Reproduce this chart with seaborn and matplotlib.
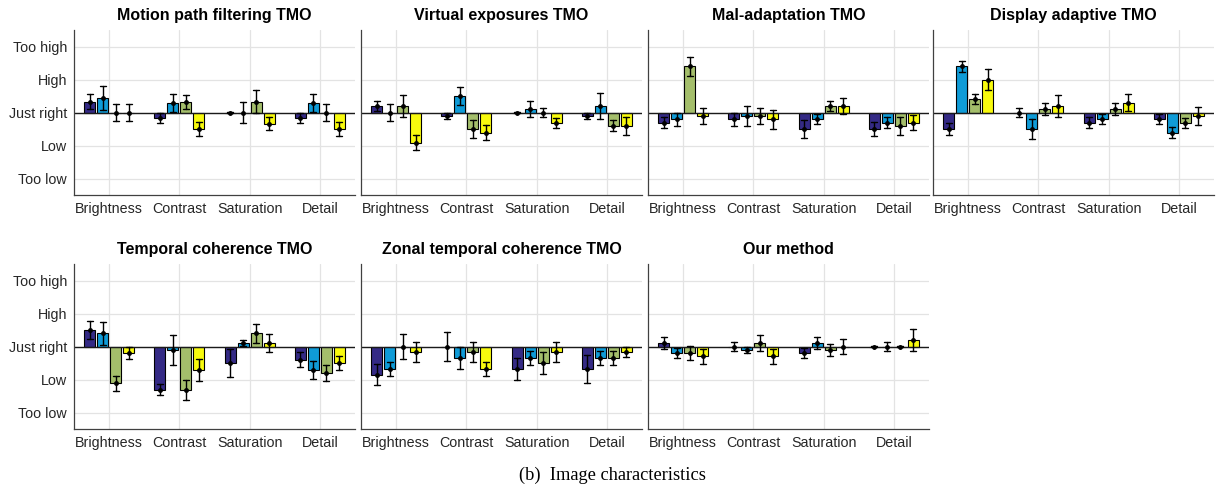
import numpy as np
import pandas as pd
import matplotlib
matplotlib.use("Agg")
import matplotlib.pyplot as plt
import seaborn as sns

# ---- data -------------------------------------------------------------
categories = ["Brightness", "Contrast", "Saturation", "Detail"]
series = ["S1", "S2", "S3", "S4"]
level_labels = ["Too low", "Low", "Just right", "High", "Too high"]
level_values = [-2, -1, 0, 1, 2]
titles = ["Motion path filtering TMO", "Virtual exposures TMO",
          "Mal-adaptation TMO", "Display adaptive TMO",
          "Temporal coherence TMO", "Zonal temporal coherence TMO",
          "Our method"]
colors = ["#342a85", "#0f9bd7", "#a4be6b", "#f8fa0e"]

# means: rows = categories, cols = series
motion_mean = [[0.33, 0.43, 0.0, 0.0], [-0.17, 0.29, 0.33, -0.50],
               [0.0, 0.0, 0.33, -0.34], [-0.17, 0.29, 0.0, -0.50]]
motion_err = [[0.22, 0.36, 0.26, 0.26], [0.16, 0.28, 0.21, 0.22],
              [0.01, 0.31, 0.34, 0.20], [0.16, 0.28, 0.26, 0.22]]
virtual_mean = [[0.20, 0.0, 0.20, -0.91], [-0.11, 0.50, -0.50, -0.61],
                [0.0, 0.10, 0.0, -0.32], [-0.11, 0.20, -0.40, -0.40]]
virtual_err = [[0.14, 0.27, 0.33, 0.23], [0.10, 0.27, 0.27, 0.22],
               [0.01, 0.24, 0.15, 0.16], [0.10, 0.39, 0.16, 0.27]]
maladapt_mean = [[-0.31, -0.20, 1.40, -0.10], [-0.20, -0.10, -0.10, -0.20],
                 [-0.50, -0.20, 0.20, 0.20], [-0.50, -0.31, -0.40, -0.31]]
maladapt_err = [[0.17, 0.20, 0.28, 0.24], [0.20, 0.31, 0.24, 0.29],
                [0.27, 0.14, 0.14, 0.25], [0.22, 0.17, 0.27, 0.22]]
display_mean = [[-0.50, 1.40, 0.40, 1.00], [0.0, -0.50, 0.10, 0.20],
                [-0.31, -0.20, 0.10, 0.30], [-0.20, -0.61, -0.31, -0.10]]
display_err = [[0.17, 0.16, 0.15, 0.33], [0.15, 0.31, 0.18, 0.33],
               [0.17, 0.14, 0.18, 0.26], [0.14, 0.16, 0.15, 0.28]]
temporal_mean = [[0.50, 0.40, -1.11, -0.20], [-1.31, -0.10, -1.31, -0.71],
                 [-0.50, 0.10, 0.40, 0.10], [-0.40, -0.71, -0.81, -0.50]]
temporal_err = [[0.27, 0.35, 0.23, 0.18], [0.16, 0.46, 0.30, 0.34],
                [0.43, 0.09, 0.29, 0.28], [0.22, 0.26, 0.25, 0.22]]
zonal_mean = [[-0.85, -0.68, 0.0, -0.17], [0.0, -0.34, -0.17, -0.68],
              [-0.68, -0.34, -0.50, -0.17], [-0.68, -0.34, -0.34, -0.17]]
zonal_err = [[0.31, 0.21, 0.37, 0.31], [0.45, 0.33, 0.31, 0.21],
             [0.34, 0.21, 0.34, 0.31], [0.42, 0.21, 0.21, 0.16]]
ours_mean = [[0.10, -0.19, -0.19, -0.30], [0.0, -0.10, 0.10, -0.30],
             [-0.19, 0.10, -0.10, 0.0], [0.0, 0.0, 0.0, 0.20]]
ours_err = [[0.18, 0.15, 0.21, 0.23], [0.15, 0.09, 0.24, 0.23],
            [0.15, 0.18, 0.18, 0.22], [0.01, 0.15, 0.01, 0.33]]

panel_means = [motion_mean, virtual_mean, maladapt_mean, display_mean,
               temporal_mean, zonal_mean, ours_mean]
panel_errs = [motion_err, virtual_err, maladapt_err, display_err,
              temporal_err, zonal_err, ours_err]

# ---- build long-form table: each (mean, err) -> two samples m-e, m+e ---
rows = []
for p, (mm, ee) in enumerate(zip(panel_means, panel_errs)):
    for ci, cat in enumerate(categories):
        for si, s in enumerate(series):
            m, e = mm[ci][si], ee[ci][si]
            rows.append((p, cat, s, m - e))
            rows.append((p, cat, s, m + e))
df = pd.DataFrame(rows, columns=["panel", "category", "series", "value"])

# ---- figure -------------------------------------------------------------
sns.set_theme(style="white")
plt.rcParams["font.family"] = ["Liberation Sans", "DejaVu Sans"]
plt.rcParams["xtick.direction"] = "in"
plt.rcParams["ytick.direction"] = "in"

W, H = 1225, 497
fig = plt.figure(figsize=(W / 100, H / 100), dpi=100)

col_left = [74, 361, 648, 933]
row_top = [30, 264]
aw, ah = 281, 165
group_width = 0.74

txt = "#262626"
for p in range(7):
    r, c = divmod(p, 4)
    ax = fig.add_axes([col_left[c] / W, 1 - (row_top[r] + ah) / H, aw / W, ah / H])
    sub = df[df["panel"] == p]
    sns.barplot(data=sub, x="category", y="value", hue="series",
                order=categories, hue_order=series, palette=colors,
                saturation=1, width=group_width, gap=0.15,
                estimator="mean", errorbar=lambda v: (v.min(), v.max()),
                capsize=0.35, err_kws={"color": "black", "linewidth": 1.0},
                edgecolor="black", linewidth=0.8, legend=False, ax=ax)
    # mean markers at the centre of each error bar
    sns.pointplot(data=sub, x="category", y="value", hue="series",
                  order=categories, hue_order=series,
                  palette=["black"] * len(series),
                  estimator="mean", errorbar=None,
                  dodge=group_width * (len(series) - 1) / len(series),
                  linestyle="none", marker="o", markersize=1.5,
                  legend=False, ax=ax, zorder=5)
    ax.set_xlim(-0.5, 3.5)
    ax.set_ylim(-2.5, 2.5)
    ax.set_yticks(level_values)
    if c == 0:
        ax.set_yticklabels(level_labels)
    else:
        ax.set_yticklabels([])
    ax.set_xlabel("")
    ax.set_ylabel("")
    ax.grid(True, color="#e3e3e3", linewidth=0.9, zorder=0)
    ax.set_axisbelow(True)
    ax.axhline(0, color="#1a1a1a", linewidth=1.0, zorder=1.5)
    for s in ["top", "right"]:
        ax.spines[s].set_visible(False)
    for s in ["left", "bottom"]:
        ax.spines[s].set_color("#404040")
        ax.spines[s].set_linewidth(0.9)
    ax.tick_params(axis="both", length=3, width=0.8, color="#404040",
                   labelsize=10.3, labelcolor=txt, pad=5)
    ax.set_title(titles[p], fontsize=11.5, fontweight="bold", color="black", pad=7)

fig.text(0.5, 1 - 475 / H, "(b)  Image characteristics", ha="center", va="center",
         fontsize=13.2, family=["Liberation Serif", "DejaVu Serif"], color="black")

fig.savefig("out.png", dpi=100)
